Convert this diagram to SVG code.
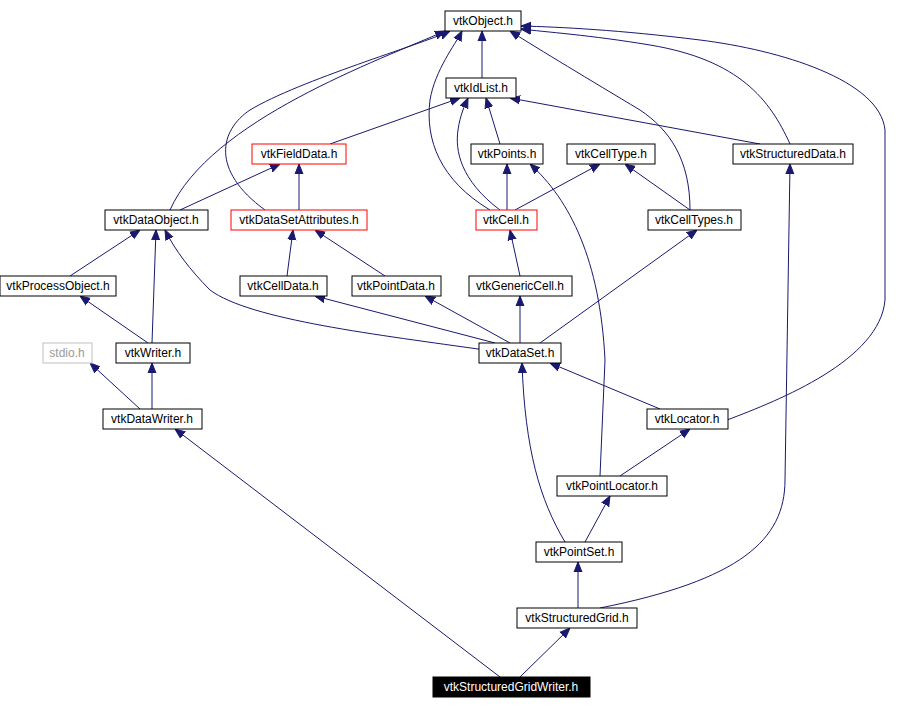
<svg xmlns="http://www.w3.org/2000/svg" width="905" height="709" viewBox="0 0 905 709">
<style>
.n rect{fill:#fff;stroke:#000;stroke-width:1}
.r rect{stroke:#f00}
.g rect{stroke:#bfbfbf}
.n text{font-family:"Liberation Sans",Arial,sans-serif;font-size:12px;text-anchor:middle;fill:#000}
.g text{fill:#999}
.b rect{fill:#000}
.b text{fill:#fff}
#edges path{fill:none;stroke:#191970;stroke-width:1;marker-end:url(#a)}
</style>
<defs><marker id="a" viewBox="0 0 10 10" refX="10" refY="5" markerWidth="10" markerHeight="10" markerUnits="userSpaceOnUse" orient="auto"><path d="M0,1 L10,5 L0,9 z" fill="#191970" stroke="#191970"/></marker></defs>
<rect width="905" height="709" fill="#fff"/>
<g id="edges">
<path d="M482,78 L482,31"/>
<path d="M170,210 C210,120 380,60 445,31"/>
<path d="M265,210 C210,170 220,130 250,110 C300,80 420,45 450,31"/>
<path d="M490,210 C440,180 425,140 430,100 C435,70 455,45 462,31"/>
<path d="M690,210 C690,160 670,130 640,110 C590,80 540,50 510,31"/>
<path d="M790,144 C770,100 740,60 650,45 C590,35 545,32 521,29"/>
<path d="M727,420 C780,400 880,360 885,300 L885,130 C880,80 780,50 700,40 C620,30 560,27 521,26"/>
<path d="M330,144 L460,98"/>
<path d="M500,144 L486,98"/>
<path d="M500,210 C460,180 455,150 458,130 C460,115 465,105 468,98"/>
<path d="M760,144 L510,98"/>
<path d="M180,210 L280,164"/>
<path d="M299,210 L299,164"/>
<path d="M507,210 L507,164"/>
<path d="M515,210 L600,164"/>
<path d="M690,210 L625,164"/>
<path d="M70,276 L140,230"/>
<path d="M148,343 L80,296"/>
<path d="M152,343 L156,230"/>
<path d="M287,276 L293,230"/>
<path d="M385,276 L315,230"/>
<path d="M520,276 L510,230"/>
<path d="M485,350 C380,335 250,320 210,290 C190,270 175,250 165,230"/>
<path d="M495,343 L315,296"/>
<path d="M510,343 L425,296"/>
<path d="M520,343 L520,296"/>
<path d="M540,343 L697,230"/>
<path d="M140,409 L90,363"/>
<path d="M152,409 L152,363"/>
<path d="M660,409 L550,363"/>
<path d="M620,476 L690,429"/>
<path d="M600,476 L605,360 C600,260 570,200 530,164"/>
<path d="M585,542 L610,496"/>
<path d="M565,542 C540,500 525,450 522,363"/>
<path d="M578,608 L578,562"/>
<path d="M600,608 C740,580 785,540 785,480 L790,164"/>
<path d="M520,677 L570,628"/>
<path d="M500,677 L175,429"/>
</g>
<g id="vtkObject" class="n"><rect x="445" y="11" width="76" height="20"/><text x="483" y="25">vtkObject.h</text></g>
<g id="vtkIdList" class="n"><rect x="446" y="78" width="70" height="20"/><text x="481" y="92">vtkIdList.h</text></g>
<g id="vtkFieldData" class="n r"><rect x="252" y="144" width="94" height="20"/><text x="299" y="158">vtkFieldData.h</text></g>
<g id="vtkPoints" class="n"><rect x="471" y="144" width="72" height="20"/><text x="507" y="158">vtkPoints.h</text></g>
<g id="vtkCellType" class="n"><rect x="567" y="144" width="88" height="20"/><text x="611" y="158">vtkCellType.h</text></g>
<g id="vtkStructuredData" class="n"><rect x="733" y="144" width="120" height="20"/><text x="793" y="158">vtkStructuredData.h</text></g>
<g id="vtkDataObject" class="n"><rect x="105" y="210" width="103" height="20"/><text x="156" y="224">vtkDataObject.h</text></g>
<g id="vtkDataSetAttributes" class="n r"><rect x="231" y="210" width="136" height="20"/><text x="299" y="224">vtkDataSetAttributes.h</text></g>
<g id="vtkCell" class="n r"><rect x="476" y="210" width="61" height="20"/><text x="506" y="224">vtkCell.h</text></g>
<g id="vtkCellTypes" class="n"><rect x="648" y="210" width="93" height="20"/><text x="694" y="224">vtkCellTypes.h</text></g>
<g id="vtkProcessObject" class="n"><rect x="0" y="276" width="116" height="20"/><text x="58" y="290">vtkProcessObject.h</text></g>
<g id="vtkCellData" class="n"><rect x="240" y="276" width="87" height="20"/><text x="283" y="290">vtkCellData.h</text></g>
<g id="vtkPointData" class="n"><rect x="352" y="276" width="89" height="20"/><text x="396" y="290">vtkPointData.h</text></g>
<g id="vtkGenericCell" class="n"><rect x="469" y="276" width="103" height="20"/><text x="520" y="290">vtkGenericCell.h</text></g>
<g id="stdio" class="n g"><rect x="43" y="343" width="49" height="20"/><text x="67" y="357">stdio.h</text></g>
<g id="vtkWriter" class="n"><rect x="116" y="343" width="74" height="20"/><text x="153" y="357">vtkWriter.h</text></g>
<g id="vtkDataSet" class="n"><rect x="479" y="343" width="82" height="20"/><text x="520" y="357">vtkDataSet.h</text></g>
<g id="vtkDataWriter" class="n"><rect x="103" y="409" width="99" height="20"/><text x="152" y="423">vtkDataWriter.h</text></g>
<g id="vtkLocator" class="n"><rect x="647" y="409" width="81" height="20"/><text x="687" y="423">vtkLocator.h</text></g>
<g id="vtkPointLocator" class="n"><rect x="557" y="476" width="110" height="20"/><text x="612" y="490">vtkPointLocator.h</text></g>
<g id="vtkPointSet" class="n"><rect x="536" y="542" width="86" height="20"/><text x="579" y="556">vtkPointSet.h</text></g>
<g id="vtkStructuredGrid" class="n"><rect x="517" y="608" width="120" height="20"/><text x="577" y="622">vtkStructuredGrid.h</text></g>
<g id="vtkStructuredGridWriter" class="n b"><rect x="433" y="677" width="157" height="20"/><text x="511" y="691">vtkStructuredGridWriter.h</text></g>
</svg>
